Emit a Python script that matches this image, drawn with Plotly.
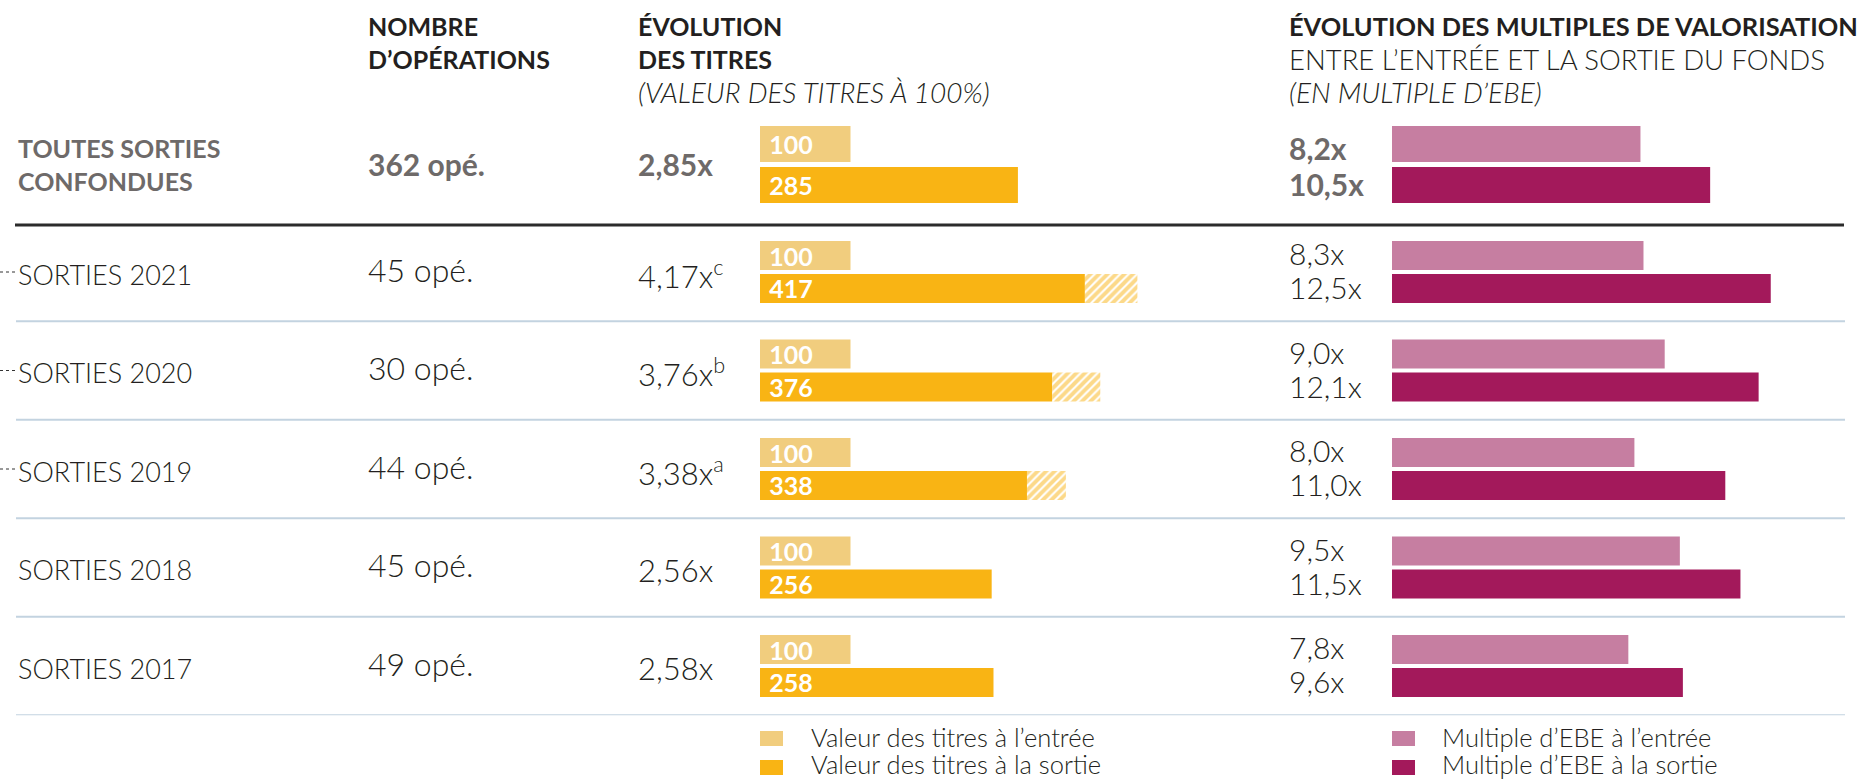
import plotly.graph_objects as go

# ---------------- data ----------------
total_key = "TOUTES"
total_label = ["TOUTES SORTIES", "CONFONDUES"]
total_ops = 362
total_titres_entree = 100
total_titres_sortie = 285
total_ebe_entree = 8.2
total_ebe_sortie = 10.5

year_keys = ["2021", "2020", "2019", "2018", "2017"]
year_labels = ["SORTIES 2021", "SORTIES 2020", "SORTIES 2019", "SORTIES 2018", "SORTIES 2017"]
year_ops = [45, 30, 44, 45, 49]
titres_entree = [100, 100, 100, 100, 100]
titres_sortie = [417, 376, 338, 256, 258]
titres_sortie_plein = [359, 323, 295, 256, 258]   # solid part (rest is hatched)
notes = ["c", "b", "a", "", ""]
ebe_entree = [8.3, 9.0, 8.0, 9.5, 7.8]
ebe_sortie = [12.5, 12.1, 11.0, 11.5, 9.6]

# ---------------- style ----------------
W, H = 1860, 781
GOLD_L = "#F1CD7E"
GOLD = "#F9B414"
PINK_L = "#C67EA1"
PINK = "#A3195B"
DARK = "#231F20"
GREY = "#6E6A69"
SEP = "#C3D3E0"
FONT = "Lato"
PAD = "\u2005"


def px_x(p):
    return p / W


def px_y(p):
    return 1 - p / H


def fr(v, nd):
    return f"{v:.{nd}f}".replace(".", ",")


fig = go.Figure()

bar_text_font = dict(family=FONT, size=25, color="white", weight=700)

# titres - toutes sorties
fig.add_trace(go.Bar(y=[total_key], x=[total_titres_entree], orientation="h",
                     xaxis="x", yaxis="y", offsetgroup="e",
                     marker=dict(color=GOLD_L, line_width=0),
                     text=[PAD + str(total_titres_entree)], textposition="inside",
                     insidetextanchor="start", textfont=bar_text_font,
                     constraintext="none", showlegend=False, hoverinfo="skip"))
fig.add_trace(go.Bar(y=[total_key], x=[total_titres_sortie], orientation="h",
                     xaxis="x", yaxis="y", offsetgroup="s",
                     marker=dict(color=GOLD, line_width=0),
                     text=[PAD + str(total_titres_sortie)], textposition="inside",
                     insidetextanchor="start", textfont=bar_text_font,
                     constraintext="none", showlegend=False, hoverinfo="skip"))
# ebe - toutes sorties
fig.add_trace(go.Bar(y=[total_key], x=[total_ebe_entree], orientation="h",
                     xaxis="x2", yaxis="y", offsetgroup="e",
                     marker=dict(color=PINK_L, line_width=0),
                     showlegend=False, hoverinfo="skip"))
fig.add_trace(go.Bar(y=[total_key], x=[total_ebe_sortie], orientation="h",
                     xaxis="x2", yaxis="y", offsetgroup="s",
                     marker=dict(color=PINK, line_width=0),
                     showlegend=False, hoverinfo="skip"))

# titres - years
fig.add_trace(go.Bar(y=year_keys, x=titres_entree, orientation="h",
                     xaxis="x", yaxis="y2", offsetgroup="e",
                     marker=dict(color=GOLD_L, line_width=0),
                     text=[PAD + str(v) for v in titres_entree], textposition="inside",
                     insidetextanchor="start", textfont=bar_text_font,
                     constraintext="none", showlegend=False, hoverinfo="skip"))
fig.add_trace(go.Bar(y=year_keys, x=titres_sortie_plein, orientation="h",
                     xaxis="x", yaxis="y2", offsetgroup="s",
                     marker=dict(color=GOLD, line_width=0),
                     text=[PAD + str(v) for v in titres_sortie], textposition="inside",
                     insidetextanchor="start", textfont=bar_text_font,
                     constraintext="none", showlegend=False, hoverinfo="skip"))
hatch = [(t - s) if t > s else None for t, s in zip(titres_sortie, titres_sortie_plein)]
fig.add_trace(go.Bar(y=year_keys, x=hatch, base=titres_sortie_plein, orientation="h",
                     xaxis="x", yaxis="y2", offsetgroup="s",
                     marker=dict(color="white", line_width=0,
                                 pattern=dict(shape="/", fgcolor=GOLD, bgcolor="white",
                                              size=6, solidity=0.65, fillmode="overlay")),
                     showlegend=False, hoverinfo="skip"))
# ebe - years
fig.add_trace(go.Bar(y=year_keys, x=ebe_entree, orientation="h",
                     xaxis="x2", yaxis="y2", offsetgroup="e",
                     marker=dict(color=PINK_L, line_width=0),
                     showlegend=False, hoverinfo="skip"))
fig.add_trace(go.Bar(y=year_keys, x=ebe_sortie, orientation="h",
                     xaxis="x2", yaxis="y2", offsetgroup="s",
                     marker=dict(color=PINK, line_width=0),
                     showlegend=False, hoverinfo="skip"))

ann = []


def text(x, y, s, yref="paper", size=26, color=DARK, weight=300, italic=False, yshift=0):
    ann.append(dict(x=x, y=y, xref="paper", yref=yref, text=s, showarrow=False,
                    xanchor="left", yanchor="middle", yshift=yshift, align="left",
                    font=dict(family=FONT, size=size, color=color, weight=weight,
                              style="italic" if italic else "normal")))


# headers
HB = 25
text(px_x(366), px_y(26), "NOMBRE", weight=700, size=HB)
text(px_x(366), px_y(59), "D’OPÉRATIONS", weight=700, size=HB)
text(px_x(636), px_y(26), "ÉVOLUTION", weight=700, size=HB)
text(px_x(636), px_y(59), "DES TITRES", weight=700, size=HB)
text(px_x(636), px_y(92), "(VALEUR DES TITRES À 100%)", italic=True, size=28)
text(px_x(1287), px_y(26), "ÉVOLUTION DES MULTIPLES DE VALORISATION", weight=700, size=25.4)
text(px_x(1287), px_y(59), "ENTRE L’ENTRÉE ET LA SORTIE DU FONDS", size=27.5)
text(px_x(1287), px_y(92), "(EN MULTIPLE D’EBE)", italic=True, size=28)

# toutes sorties row
text(px_x(16), 0, "<br>".join(total_label), yref="y", weight=700, color=GREY, size=25)
text(px_x(366), 0, f"{total_ops} opé.", yref="y", weight=700, color=GREY, size=30)
text(px_x(636), 0, fr(total_titres_sortie / 100, 2) + "x", yref="y", weight=700,
     color=GREY, size=30)
text(px_x(1287), 0, fr(total_ebe_entree, 1) + "x", yref="y", weight=700, color=GREY,
     size=30, yshift=16)
text(px_x(1287), 0, fr(total_ebe_sortie, 1) + "x", yref="y", weight=700, color=GREY,
     size=30, yshift=-20)

# years rows
for i, (lab, ops, ts, nt, ee, es) in enumerate(zip(year_labels, year_ops, titres_sortie, notes,
                                                    ebe_entree, ebe_sortie)):
    text(px_x(16), i, lab, yref="y2", size=27, yshift=-2)
    text(px_x(366), i, f"{ops} opé.", yref="y2", size=32, yshift=3)
    mult = fr(ts / 100, 2) + "x" + (f"<sup>{nt}</sup>" if nt else "")
    text(px_x(636), i, mult, yref="y2", size=31, yshift=-2)
    text(px_x(1287), i, fr(ee, 1) + "x", yref="y2", size=30, yshift=19)
    text(px_x(1287), i, fr(es, 1) + "x", yref="y2", size=30, yshift=-15)

# legend texts
text(px_x(809), px_y(737), "Valeur des titres à l’entrée", size=25.5)
text(px_x(809), px_y(764), "Valeur des titres à la sortie", size=25.5)
text(px_x(1440), px_y(737), "Multiple d’EBE à l’entrée", size=25.5)
text(px_x(1440), px_y(764), "Multiple d’EBE à la sortie", size=25.5)

shapes = []
# thick line
shapes.append(dict(type="line", xref="paper", yref="paper", x0=px_x(15), x1=px_x(1844),
                   y0=px_y(225), y1=px_y(225), line=dict(color="#2B2B2B", width=3)))
# separators
for i in range(len(year_keys)):
    shapes.append(dict(type="line", xref="paper", yref="y2", x0=px_x(16), x1=px_x(1845),
                       y0=i + 0.5, y1=i + 0.5, line=dict(color=SEP, width=2)))
# dotted leaders for annotated years
for i, nt in enumerate(notes):
    if nt:
        shapes.append(dict(type="line", xref="paper", yref="y2", x0=0, x1=px_x(17),
                           y0=i, y1=i, line=dict(color="#333333", width=1, dash="dot")))
# legend squares
for (x0, y0, c) in [(760, 731, GOLD_L), (760, 760, GOLD), (1392, 731, PINK_L), (1392, 760, PINK)]:
    shapes.append(dict(type="rect", xref="paper", yref="paper", x0=px_x(x0), x1=px_x(x0 + 23),
                       y0=px_y(y0), y1=px_y(y0 + 15), fillcolor=c, line_width=0))

fig.update_layout(
    width=W, height=H, margin=dict(l=0, r=0, t=0, b=0),
    paper_bgcolor="white", plot_bgcolor="white",
    barmode="group", bargap=0.33, bargroupgap=0.122,
    uniformtext=dict(mode="show", minsize=25),
    xaxis=dict(domain=[px_x(760), px_x(1160)], range=[0, 400 / 0.905], visible=False,
               anchor="y2", fixedrange=True),
    xaxis2=dict(domain=[px_x(1392), px_x(1800)], range=[0, 408 / 30.3], visible=False,
                anchor="y2", fixedrange=True),
    yaxis=dict(domain=[px_y(225.7), px_y(103.3)], type="category",
               categoryarray=[total_key], range=[0.5, -0.5], visible=False, fixedrange=True),
    yaxis2=dict(domain=[px_y(715.25), px_y(222.75)], type="category",
                categoryarray=year_keys, range=[4.5, -0.5], visible=False, fixedrange=True),
    annotations=ann, shapes=shapes, showlegend=False,
)

fig.write_html("out.html", config={"displayModeBar": False},
               post_script="document.body.style.margin='0';document.body.style.overflow='hidden';")
